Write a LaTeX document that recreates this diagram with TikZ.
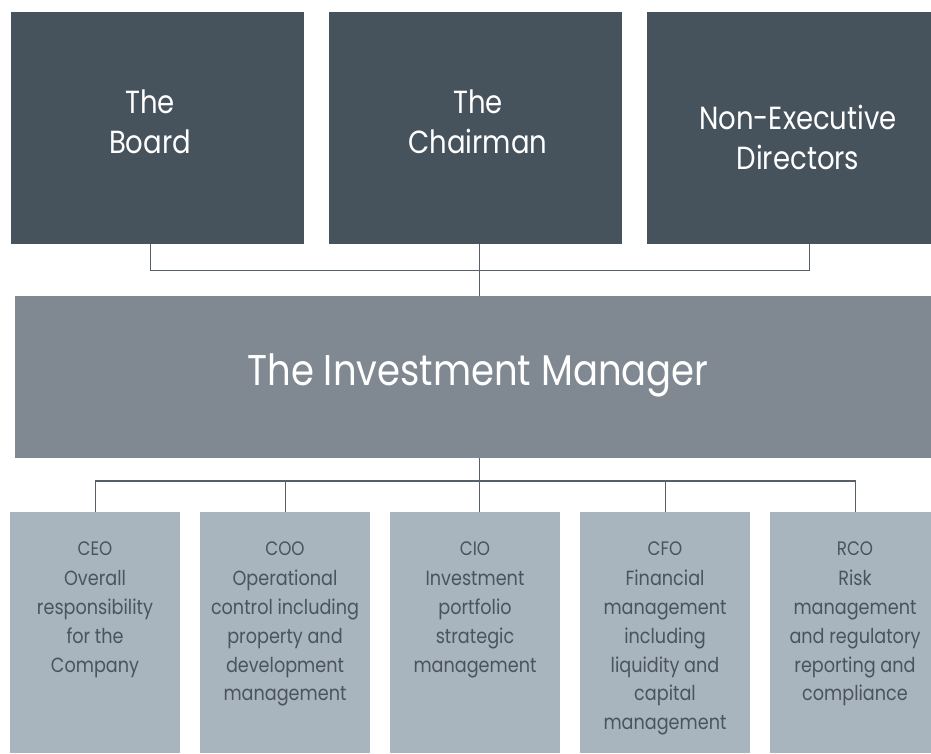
\documentclass[tikz,border=0pt]{standalone}
\usepackage{fontspec}
\setmainfont{Poppins}[FakeStretch=0.86]
\definecolor{boardgrey}{HTML}{46525C}
\definecolor{managergrey}{HTML}{808891}
\definecolor{officergrey}{HTML}{A9B5BE}
\definecolor{officertext}{HTML}{4A545E}
\definecolor{linkgrey}{HTML}{56606A}
\begin{document}
\begin{tikzpicture}[x=1pt,y=-1pt,
  box/.style={rectangle, draw=none, inner sep=0pt, anchor=north west},
  topbox/.style={box, fill=boardgrey, minimum width=293pt, minimum height=232pt},
  midbox/.style={box, fill=managergrey, minimum width=928pt, minimum height=162pt},
  officerbox/.style={box, fill=officergrey, minimum width=170pt, minimum height=241pt},
  toptext/.style={inner sep=0pt, align=center, text=white,
    font=\fontsize{32}{40}\selectfont},
  imtext/.style={inner sep=0pt, anchor=base, text=white, font=\fontsize{43}{50}\selectfont},
  roletxt/.style={inner sep=0pt, anchor=base, text=officertext,
    font=\fontsize{19.5}{28.7}\selectfont},
  dutytxt/.style={inner sep=0pt, anchor=north, align=center, text=officertext,
    font=\fontsize{20.5}{28.7}\selectfont},
  link/.style={draw=linkgrey, line width=1.3pt}]
\useasboundingbox (0,0) rectangle (931,753);
\clip (0,0) rectangle (931,753);

% governance boxes
\node[topbox] (board) at (11,12) {};
\node[topbox] (chair) at (329,12) {};
\node[topbox] (ned) at (647,12) {};
\node[toptext] (boardtxt) at (150,122) {The\\Board};
\node[toptext] (chairtxt) at (478,122) {The\\Chairman};
\node[toptext] (nedtxt) at (798,137) {Non-Executive\\Directors};

% investment manager
\node[midbox] (im) at (15,296) {};
\node[imtext] (imtxt) at (478,385) {The Investment Manager};

% officers
\node[officerbox] (ceo) at (10,512) {};
\node[officerbox] (coo) at (200,512) {};
\node[officerbox] (cio) at (390,512) {};
\node[officerbox] (cfo) at (580,512) {};
\node[officerbox] (rco) at (770,512) {};

% titles sit on baseline 555, duties start on baseline 585.7 (strut height 20.09)
\node[roletxt] (ceorole) at (95,555) {CEO};
\node[roletxt] (coorole) at (285,555) {COO};
\node[roletxt] (ciorole) at (475,555) {CIO};
\node[roletxt] (cforole) at (665,555) {CFO};
\node[roletxt] (rcorole) at (855,555) {RCO};

\node[dutytxt] (ceotxt) at (95,565.6) {\strut Overall\\responsibility\\for the\\Company};
\node[dutytxt] (cootxt) at (285,565.6) {\strut Operational\\control including\\property and\\development\\management};
\node[dutytxt] (ciotxt) at (475,565.6) {\strut Investment\\portfolio\\strategic\\management};
\node[dutytxt] (cfotxt) at (665,565.6) {\strut Financial\\management\\including\\liquidity and\\capital\\management};
\node[dutytxt] (rcotxt) at (855,565.6) {\strut Risk\\management\\and regulatory\\reporting and\\compliance};

% connectors: governance to manager
\draw[link] ([xshift=-7.5pt]board.south) -- ++(0,26) -| ([xshift=15.5pt]ned.south);
\draw[link] ([xshift=3.5pt]chair.south) -- ++(0,52);

% connectors: manager to officers
\draw[link] (im.south) -- (im.south |- cio.north);
\draw[link] (ceo.north) -- ++(0,-31) -| (rco.north);
\draw[link] (coo.north) -- ++(0,-31);
\draw[link] (cfo.north) -- ++(0,-31);
\end{tikzpicture}
\end{document}
